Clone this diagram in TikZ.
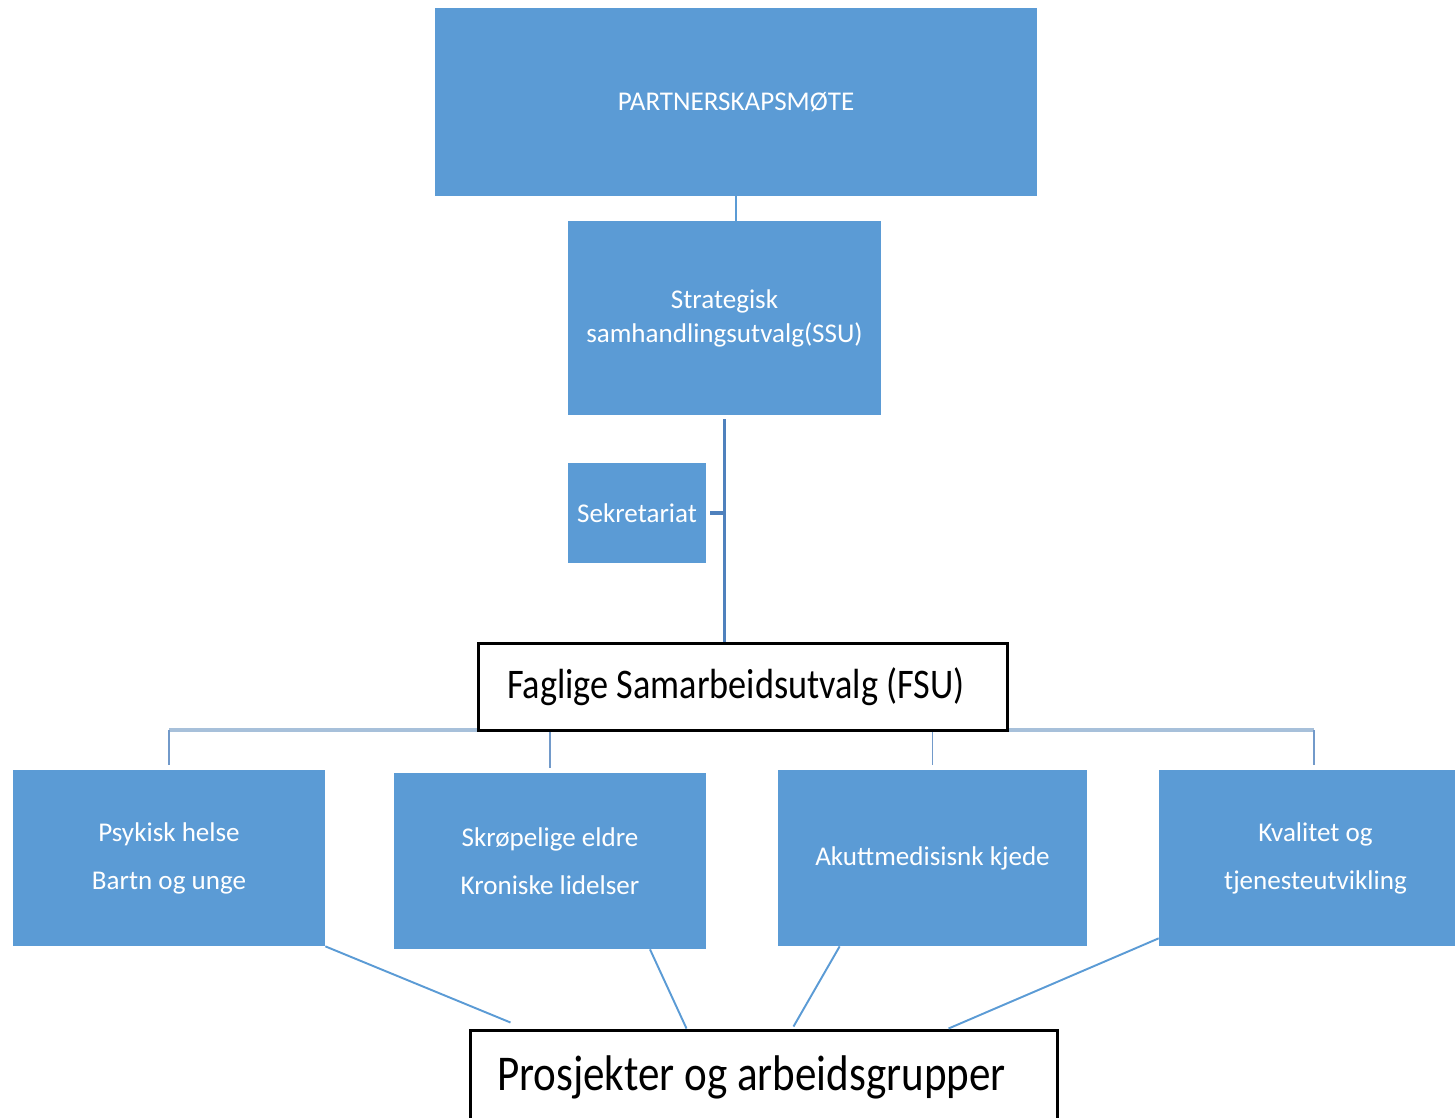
\documentclass[tikz,border=0pt]{standalone}
\usepackage{fontspec}
\setmainfont{Carlito}
\newfontfamily\narrowfont[FakeStretch=0.86]{Carlito}
\usepackage{xcolor}
\usetikzlibrary{positioning,calc}
\definecolor{boxblue}{HTML}{5B9BD5}
\definecolor{trunkblue}{HTML}{4F81BD}
\definecolor{busblue}{HTML}{A7C0DA}

\begin{document}
\begin{tikzpicture}[
  every node/.style={align=center,inner sep=0pt},%
  b/.style={fill=boxblue,text=white,font=\fontsize{15.4}{27.3}\selectfont},%
  w/.style={fill=white,draw=black,line width=1.7pt,text=black,align=flush left},%
  ln/.style={draw=boxblue,line width=1.1pt},%
  tr/.style={draw=trunkblue,line width=1.8pt},%
  bus/.style={draw=busblue,line width=2.3pt},%
  dr/.style={draw=trunkblue!80,line width=1pt},%
  ]
  \useasboundingbox (0,0) rectangle (29.1,-22.34);
  \node (part) at (14.72,-2.04) [b,minimum width=12.04cm,minimum height=3.76cm] {PARTNERSKAPSMØTE};
  \node (ssu) at (14.49,-6.36) [b,minimum width=6.26cm,minimum height=3.88cm,
    font=\fontsize{15.4}{19.4}\selectfont] {Strategisk\\samhandlingsutvalg(SSU)};
  \node (sek) at (12.74,-10.26) [b,minimum width=2.76cm,minimum height=2cm] {Sekretariat};

  \node (psy) at (3.38,-17.16) [b,minimum width=6.24cm,minimum height=3.52cm] {Psykisk helse\\Bartn og unge};
  \node (skr) at (11.0,-17.22) [b,minimum width=6.24cm,minimum height=3.52cm] {Skrøpelige eldre\\Kroniske lidelser};
  \node (akm) at (18.65,-17.16) [b,minimum width=6.18cm,minimum height=3.52cm] {Akuttmedisisnk kjede};
  \node (kva) at (26.14,-17.16) [b,minimum width=5.92cm,minimum height=3.52cm] {};
  \node (kvatxt) at ([xshift=0.17cm]kva.center) [b,fill=none] {Kvalitet og\\tjenesteutvikling};

  \coordinate (bus) at (0,-14.6);
  \draw [bus] (psy.north |- bus) -- ([xshift=0.14cm]kva.north |- bus);
  \draw [dr] (psy.north |- bus) -- ([yshift=0.1cm]psy.north);
  \draw [dr] (skr.north |- bus) -- ([yshift=0.1cm]skr.north);
  \draw [dr] (akm.north |- bus) -- ([yshift=0.1cm]akm.north);
  \draw [dr] ([xshift=0.14cm]kva.north |- bus) -- ([xshift=0.14cm,yshift=0.1cm]kva.north);

  \node (fsu) at (14.85,-13.73) [w,minimum width=10.58cm,minimum height=1.74cm,
    inner xsep=0.58cm,text width=9.42cm,
    font=\narrowfont\fontsize{24}{26}\selectfont] {Faglige Samarbeidsutvalg (FSU)};
  \node (pro) at (15.27,-21.55) [w,minimum width=11.74cm,minimum height=1.9cm,
    inner xsep=0.54cm,text width=10.66cm,
    font=\narrowfont\fontsize{28.5}{30}\selectfont] {Prosjekter og arbeidsgrupper};

  \draw [ln,line width=1.4pt] (part.south) -- (part.south |- ssu.north);
  \draw [tr] ([yshift=-0.08cm]ssu.south) -- (ssu.south |- fsu.north);
  \draw [tr] ([xshift=0.08cm]sek.east) -- (sek.east -| ssu.south);

  \draw [ln] (psy.south east) -- ([xshift=0.84cm,yshift=0.12cm]pro.north west);
  \draw [ln] ([xshift=2cm]skr.south) -- ([xshift=4.36cm]pro.north west);
  \draw [ln] ([xshift=1.24cm]akm.south west) -- ([xshift=6.5cm,yshift=0.04cm]pro.north west);
  \draw [ln] ([yshift=0.16cm]kva.south west) -- ([xshift=9.6cm]pro.north west);
\end{tikzpicture}
\end{document}
